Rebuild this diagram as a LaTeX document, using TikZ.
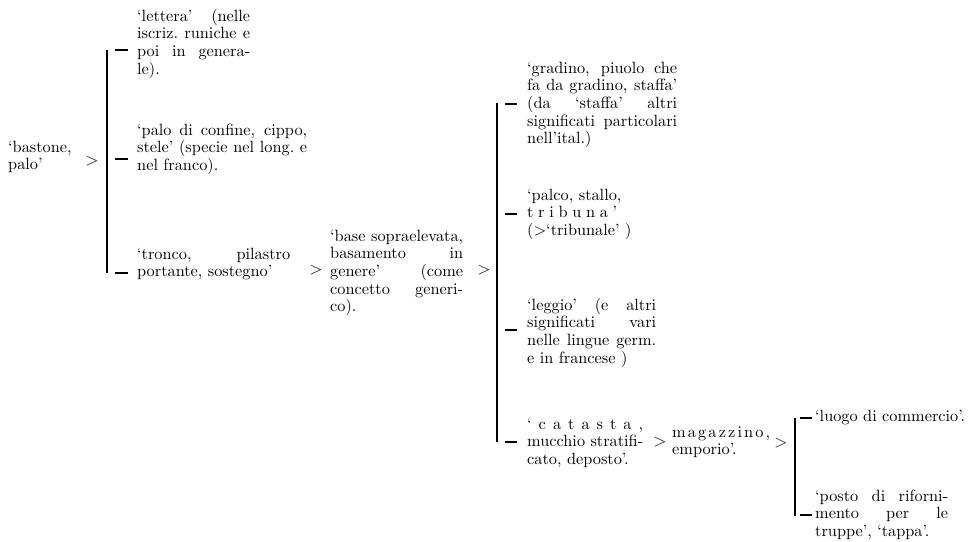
\documentclass[tikz,border=0pt]{standalone}
\usepackage{tikz}
\font\lmten="[lmroman10-regular]:mapping=tex-text" at 16.3pt
\newcommand\jus[1]{\makebox[\linewidth][s]{\spaceskip=.2em plus 1fil\xspaceskip=\spaceskip #1}}

\begin{document}
\begin{tikzpicture}[x=1pt,y=-1pt,
    every node/.style={font=\fontsize{16.3}{17.7}\selectfont\lmten},
    blk/.style={anchor=base west,inner sep=0pt,align=left,text width=#1},
    gt/.style={inner sep=0pt},
    bar/.style={line width=1.2pt},
    tick/.style={line width=1.4pt}]
\useasboundingbox (0,0) rectangle (973,541);

\node[blk=70pt] (bastone) at (8,152) {‘bastone,\\palo’};
\node[gt] (gta) at (92,161) {$>$};

\coordinate (b1t) at (107,50);
\coordinate (b1b) at (107,273);
\draw[bar] (b1t) -- (b1b);
\foreach \y in {50,159,273}
    \draw[tick] (115,\y) -- (128,\y);

\node[blk=113pt] (lettera) at (137,21) {\jus{‘lettera’ (nelle}\\\jus{iscriz. runiche e}\\\jus{poi in genera-}\\le).};
\node[blk=170pt] (palo) at (137,135) {\jus{‘palo di confine, cippo,}\\\jus{stele’ (specie nel long. e}\\nel franco).};
\node[blk=153pt] (tronco) at (137,259) {\jus{‘tronco, pilastro}\\portante, sostegno’};

\node[gt] (gtb) at (316,270) {$>$};
\node[blk=133pt] (base) at (330,241) {\jus{‘base sopraelevata,}\\\jus{basamento in}\\\jus{genere’ (come}\\\jus{concetto generi-}\\co).};
\node[gt] (gtc) at (484,270) {$>$};

\coordinate (b2t) at (497,103);
\coordinate (b2b) at (497,442);
\draw[bar] (b2t) -- (b2b);
\foreach \y in {104,214,330,442}
    \draw[tick] (505,\y) -- (517,\y);

\node[blk=150pt] (gradino) at (527,73) {\jus{‘gradino, piuolo che}\\\jus{fa da gradino, staffa’}\\\jus{(da ‘staffa’ altri}\\\jus{significati particolari}\\nell’ital.)};
\node[blk=130pt] (palco) at (527,200) {‘palco, stallo,\\\makebox[90pt][s]{t\hfil r\hfil i\hfil b\hfil u\hfil n\hfil a\hfil ’}\\(>‘tribunale’ )};
\node[blk=129pt] (leggio) at (527,310) {\jus{‘leggio’ (e altri}\\\jus{significati vari}\\\jus{nelle lingue germ.}\\e in francese )};
\node[blk=116pt] (catasta) at (527,429) {\jus{‘\hfil c\hfil a\hfil t\hfil a\hfil s\hfil t\hfil a\hfil ,}\\\jus{mucchio stratifi-}\\cato, deposto’.};

\node[gt] (gtd) at (660,442) {$>$};
\node[blk=98pt] (magazzino) at (672,437) {\jus{m\hfil a\hfil g\hfil a\hfil z\hfil z\hfil i\hfil n\hfil o\hfil ,}\\emporio’.};
\node[gt] (gte) at (781,443) {$>$};

\coordinate (b3t) at (795,418);
\coordinate (b3b) at (795,516);
\draw[bar] (b3t) -- (b3b);
\foreach \y in {418,515}
    \draw[tick] (800,\y) -- (812,\y);

\node[blk=150pt] (luogo) at (815,421) {‘luogo di commercio’.};
\node[blk=133pt] (posto) at (815,501) {\jus{‘posto di riforni-}\\\jus{mento per le}\\truppe’, ‘tappa’.};
\end{tikzpicture}
\end{document}
